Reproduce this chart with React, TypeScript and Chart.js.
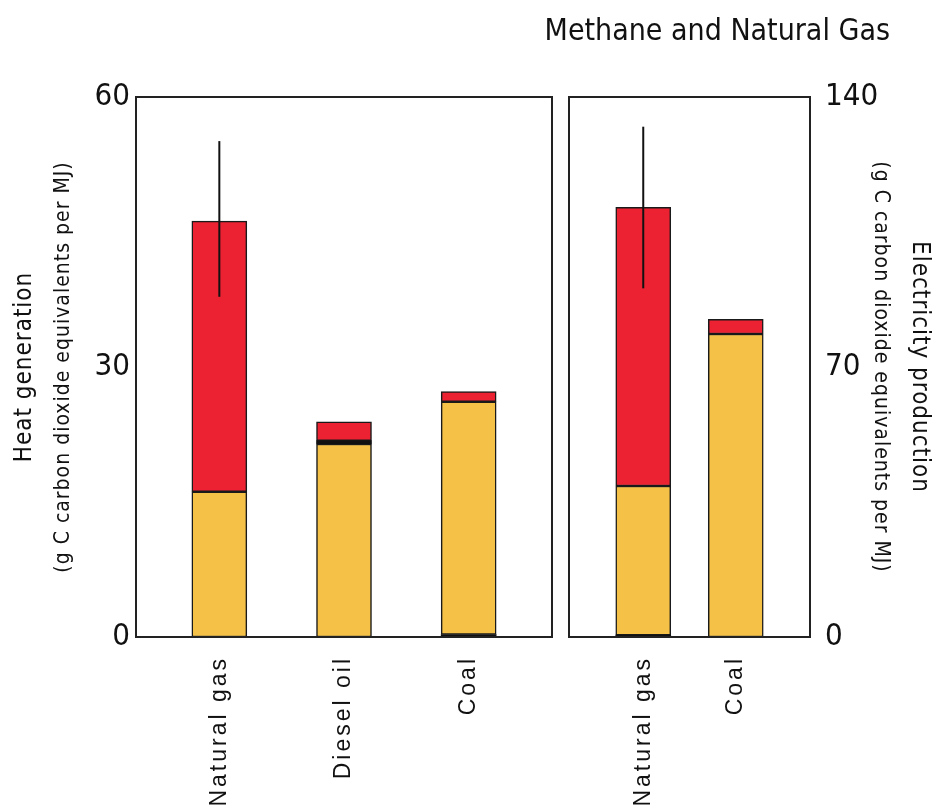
import React, { useEffect, useRef } from 'react';
import { Chart, registerables } from 'chart.js';

Chart.register(...registerables);

// ---------- data ----------
const heatCategories = ['Natural gas', 'Diesel oil', 'Coal'];
const heatBlackBase = [null, null, 0.28];
const heatCO2 = [16.14, 21.44, 25.86];
const heatBlackMid = [null, 0.37, null];
const heatCH4 = [30.06, 2.11, 1.12];
const heatErrLow = [37.8, null, null];
const heatErrHigh = [55.1, null, null];
const heatTicks = [0, 30, 60];

const elecCategories = ['Natural gas', 'Coal'];
const elecBlackBase = [0.5, null];
const elecCO2 = [38.65, 78.56];
const elecCH4 = [72.25, 3.81];
const elecErrLow = [90.4, null];
const elecErrHigh = [132.3, null];
const elecTicks = [0, 70, 140];

const chartTitle = 'Methane and Natural Gas';
const heatTitle1 = 'Heat generation';
const elecTitle1 = 'Electricity production';
const unitTitle = '(g C carbon dioxide equivalents per MJ)';

// ---------- styles ----------
const RED = '#EC2232';
const ORANGE = '#F5C146';
const BLACK = '#111111';
const COND = "'DejaVu Sans Condensed', 'DejaVu Sans', sans-serif";
const ARIAL = "'Liberation Sans', Arial, sans-serif";

function errorBarPlugin(low: (number | null)[], high: (number | null)[]) {
  return {
    id: 'errBars',
    afterDatasetsDraw(chart: any) {
      const { ctx, scales } = chart;
      ctx.save();
      ctx.strokeStyle = BLACK;
      ctx.lineWidth = 2;
      low.forEach((lo, i) => {
        const hi = high[i];
        if (lo == null || hi == null) return;
        const x = scales.x.getPixelForValue(i);
        ctx.beginPath();
        ctx.moveTo(x, scales.y.getPixelForValue(lo));
        ctx.lineTo(x, scales.y.getPixelForValue(hi));
        ctx.stroke();
      });
      ctx.restore();
    },
  };
}

function framePlugin(margin: number) {
  return {
    id: 'frame',
    afterDraw(chart: any) {
      const { ctx, chartArea } = chart;
      ctx.save();
      ctx.strokeStyle = '#222222';
      ctx.lineWidth = 2;
      ctx.strokeRect(
        chartArea.left - margin,
        chartArea.top,
        chartArea.right - chartArea.left + 2 * margin,
        chartArea.bottom - chartArea.top
      );
      ctx.restore();
    },
  };
}

// letter spacing for selected scale texts
function wrapSpacing(scale: any, method: string, spacing: string) {
  if (!scale || scale['_ls_' + method]) return;
  const orig = scale[method];
  scale[method] = function (...args: any[]) {
    const c = this.ctx;
    c.save();
    c.letterSpacing = spacing;
    orig.apply(this, args);
    c.restore();
  };
  scale['_ls_' + method] = true;
}

const spacingPlugin = {
  id: 'spacing',
  beforeDraw(chart: any) {
    wrapSpacing(chart.scales.x, 'drawLabels', '3px');
    wrapSpacing(chart.scales.y, 'drawTitle', '1px');
    wrapSpacing(chart.scales.yOuter, 'drawTitle', '1px');
  },
};

const titlePlugin = {
  id: 'mainTitle',
  afterDraw(chart: any) {
    const { ctx, chartArea } = chart;
    ctx.save();
    ctx.fillStyle = BLACK;
    ctx.font = `30px ${COND}`;
    ctx.textAlign = 'right';
    ctx.textBaseline = 'alphabetic';
    ctx.fillText(chartTitle, chartArea.right + 108, 40);
    ctx.restore();
  },
};

function segment(label: string, data: (number | null)[], color: string, border: boolean) {
  return {
    label,
    data,
    backgroundColor: color,
    borderColor: '#1a1a1a',
    borderWidth: border ? 1.5 : 0,
    borderSkipped: false,
    barThickness: 55,
  };
}

function makeConfig(opts: {
  labels: string[];
  base: (number | null)[];
  co2: (number | null)[];
  mid: (number | null)[] | null;
  ch4: (number | null)[];
  max: number;
  ticks: number[];
  side: 'left' | 'right';
  title1: string;
  innerWidth: number;
  outerWidth: number;
  innerTitlePad: number;
  outerTitlePad: number;
  tickPad: number;
  padding: any;
  plugins: any[];
}) {
  const datasets: any[] = [
    segment('base', opts.base, BLACK, false),
    segment('CO2', opts.co2, ORANGE, true),
  ];
  if (opts.mid) datasets.push(segment('mid', opts.mid, BLACK, false));
  datasets.push(segment('CH4', opts.ch4, RED, true));

  return {
    type: 'bar' as const,
    data: { labels: opts.labels, datasets },
    plugins: [spacingPlugin, ...opts.plugins],
    options: {
      animation: false,
      responsive: true,
      maintainAspectRatio: false,
      layout: { padding: opts.padding },
      plugins: { legend: { display: false }, tooltip: { enabled: false } },
      scales: {
        x: {
          stacked: true,
          grid: { display: false, drawTicks: false },
          border: { display: false },
          ticks: {
            autoSkip: false,
            minRotation: 90,
            maxRotation: 90,
            padding: 19,
            color: BLACK,
            font: { family: ARIAL, size: 23 },
          },
          afterFit(scale: any) {
            scale.height = 175;
          },
        },
        y: {
          stacked: true,
          position: opts.side,
          weight: 0,
          min: 0,
          max: opts.max,
          afterBuildTicks(scale: any) {
            scale.ticks = opts.ticks.map((v) => ({ value: v }));
          },
          grid: { display: false, drawTicks: false },
          border: { display: false },
          ticks: {
            padding: opts.tickPad,
            color: BLACK,
            font: { family: COND, size: 31 },
          },
          title: {
            display: true,
            text: unitTitle,
            color: BLACK,
            font: { family: COND, size: 21, lineHeight: 1.2 },
            padding: { top: opts.innerTitlePad, bottom: 0 },
          },
          afterFit(scale: any) {
            scale.width = opts.innerWidth;
          },
        },
        yOuter: {
          position: opts.side,
          weight: 10,
          min: 0,
          max: 1,
          grid: { display: false, drawTicks: false },
          border: { display: false },
          ticks: { display: false },
          title: {
            display: true,
            text: opts.title1,
            color: BLACK,
            font: { family: COND, size: 24, lineHeight: 1.2 },
            padding: { top: opts.outerTitlePad, bottom: 0 },
          },
          afterFit(scale: any) {
            scale.width = opts.outerWidth;
          },
        },
      },
    },
  };
}

export default function App() {
  const leftRef = useRef<HTMLCanvasElement | null>(null);
  const rightRef = useRef<HTMLCanvasElement | null>(null);

  useEffect(() => {
    const left = new Chart(
      leftRef.current as HTMLCanvasElement,
      makeConfig({
        labels: heatCategories,
        base: heatBlackBase,
        co2: heatCO2,
        mid: heatBlackMid,
        ch4: heatCH4,
        max: 60,
        ticks: heatTicks,
        side: 'left',
        title1: heatTitle1,
        innerWidth: 115,
        outerWidth: 42,
        innerTitlePad: 9,
        outerTitlePad: 10,
        tickPad: 27,
        padding: { left: 0, right: 29, top: 97, bottom: 0 },
        plugins: [errorBarPlugin(heatErrLow, heatErrHigh), framePlugin(21)],
      }) as any
    );
    const right = new Chart(
      rightRef.current as HTMLCanvasElement,
      makeConfig({
        labels: elecCategories,
        base: elecBlackBase,
        co2: elecCO2,
        mid: null,
        ch4: elecCH4,
        max: 140,
        ticks: elecTicks,
        side: 'right',
        title1: elecTitle1,
        innerWidth: 118,
        outerWidth: 35,
        innerTitlePad: 7,
        outerTitlePad: 1,
        tickPad: 43,
        padding: { left: 77, right: 0, top: 97, bottom: 0 },
        plugins: [errorBarPlugin(elecErrLow, elecErrHigh), framePlugin(28), titlePlugin],
      }) as any
    );
    return () => {
      left.destroy();
      right.destroy();
    };
  }, []);

  return (
    <div style={{ position: 'absolute', left: 0, top: 0, width: 935, height: 812, background: '#fff' }}>
      <div style={{ position: 'absolute', left: 0, top: 0, width: 560, height: 812 }}>
        <canvas ref={leftRef} />
      </div>
      <div style={{ position: 'absolute', left: 520, top: 0, width: 415, height: 812 }}>
        <canvas ref={rightRef} />
      </div>
    </div>
  );
}
